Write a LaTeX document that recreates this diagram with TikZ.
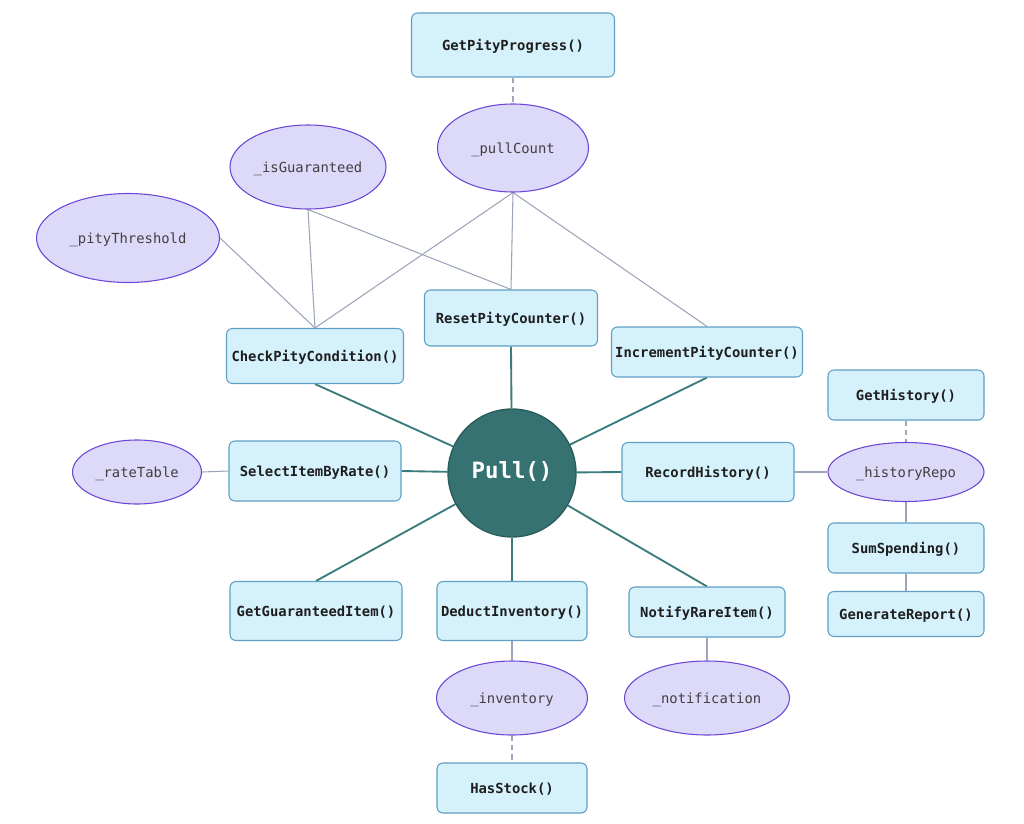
\documentclass[tikz,border=0pt]{standalone}
\usepackage{fontspec}
\setmonofont{DejaVu Sans Mono}
\usetikzlibrary{shapes.geometric,backgrounds}
\definecolor{boxfill}{HTML}{D5F2FC}
\definecolor{boxdraw}{HTML}{5E9FC2}
\definecolor{ellfill}{HTML}{DDDAF9}
\definecolor{elldraw}{HTML}{6E45D6}
\definecolor{pullfill}{HTML}{367272}
\definecolor{pulldraw}{HTML}{2A5C5C}
\definecolor{teal}{HTML}{3A7B7B}
\definecolor{greyline}{HTML}{9CA5B9}
\definecolor{txt}{HTML}{1E1E1E}
\tikzset{
  fnbox/.style={draw=boxdraw, fill=boxfill, line width=0.8pt, rounded corners=4.5pt, inner sep=0pt,
    text height=0.8em, text depth=0pt,
    font=\ttfamily\bfseries\fontsize{10.4}{12}\selectfont, text=txt},
  field/.style={ellipse, draw=elldraw, fill=ellfill, line width=0.8pt, inner sep=0pt,
    text height=0.8em, text depth=0pt,
    font=\ttfamily\fontsize{10.4}{12}\selectfont, text=txt!85},
  core/.style={circle, draw=pulldraw, fill=pullfill, line width=1pt, inner sep=0pt,
    text height=0.8em, text depth=0pt,
    font=\ttfamily\bfseries\fontsize{16.8}{20}\selectfont, text=white},
  callline/.style={draw=teal, line width=1.4pt},
  uselink/.style={draw=greyline, line width=0.8pt},
  readlink/.style={draw=greyline, line width=0.8pt, dash pattern=on 4pt off 3pt},
}
\begin{document}
\begin{tikzpicture}[x=0.75pt,y=-0.75pt]
\useasboundingbox (0,0) rectangle (1024,824);
% nodes
\node[fnbox, minimum width=152.25pt, minimum height=48pt] (gpp) at (513,45) {GetPityProgress()};
\node[field, minimum width=113.25pt, minimum height=66pt] (pc) at (513,148) {\_pullCount};
\node[field, minimum width=117pt, minimum height=63pt] (ig) at (308,167) {\_isGuaranteed};
\node[field, minimum width=137.25pt, minimum height=66.75pt] (pt) at (128,238) {\_pityThreshold};
\node[fnbox, minimum width=129.75pt, minimum height=42pt] (rpc) at (511,318) {ResetPityCounter()};
\node[fnbox, minimum width=132.75pt, minimum height=41.25pt] (cpc) at (315,356) {CheckPityCondition()};
\node[fnbox, minimum width=143.25pt, minimum height=37.5pt] (ipc) at (707,352) {IncrementPityCounter()};
\node[fnbox, minimum width=117pt, minimum height=37.5pt] (gh) at (906,395) {GetHistory()};
\node[field, minimum width=117pt, minimum height=44.25pt] (hr) at (906,472) {\_historyRepo};
\node[fnbox, minimum width=117pt, minimum height=37.5pt] (ss) at (906,548) {SumSpending()};
\node[fnbox, minimum width=117pt, minimum height=33.75pt] (gr) at (906,614) {GenerateReport()};
\node[core, minimum size=96pt] (pull) at (512,473) {Pull()};
\node[fnbox, minimum width=129pt, minimum height=45pt] (sir) at (315,471) {SelectItemByRate()};
\node[field, minimum width=96.75pt, minimum height=48pt] (rt) at (137,472) {\_rateTable};
\node[fnbox, minimum width=129pt, minimum height=44.25pt] (rh) at (708,472) {RecordHistory()};
\node[fnbox, minimum width=129pt, minimum height=44.25pt] (ggi) at (316,611) {GetGuaranteedItem()};
\node[fnbox, minimum width=112.5pt, minimum height=44.25pt] (di) at (512,611) {DeductInventory()};
\node[fnbox, minimum width=117pt, minimum height=37.5pt] (nri) at (707,612) {NotifyRareItem()};
\node[field, minimum width=113.25pt, minimum height=55.5pt] (inv) at (512,698) {\_inventory};
\node[field, minimum width=123.75pt, minimum height=55.5pt] (nt) at (707,698) {\_notification};
\node[fnbox, minimum width=112.5pt, minimum height=37.5pt] (hs) at (512,788) {HasStock()};
% connectors behind nodes
\begin{scope}[on background layer]
  % calls from Pull()
  \draw[callline] (pull) -- (cpc.south);
  \draw[callline] (pull) -- (rpc.south);
  \draw[callline] (pull) -- (ipc.south);
  \draw[callline] (pull) -- (sir.east);
  \draw[callline] (pull) -- (rh.west);
  \draw[callline] (pull) -- (ggi.north);
  \draw[callline] (pull) -- (di.north);
  \draw[callline] (pull) -- (nri.north);
  % field usage
  \draw[uselink] (pc.south) -- (cpc.north);
  \draw[uselink] (pc.south) -- (rpc.north);
  \draw[uselink] (pc.south) -- (ipc.north);
  \draw[uselink] (ig.south) -- (cpc.north);
  \draw[uselink] (ig.south) -- (rpc.north);
  \draw[uselink] (pt.east) -- (cpc.north);
  \draw[uselink] (rt.east) -- (sir.west);
  \draw[uselink] (rh.east) -- (hr.west);
  \draw[uselink] (hr.south) -- (ss.north);
  \draw[uselink] (ss.south) -- (gr.north);
  \draw[uselink] (di.south) -- (inv.north);
  \draw[uselink] (nri.south) -- (nt.north);
  % read-only access
  \draw[readlink] (gpp.south) -- (pc.north);
  \draw[readlink] (gh.south) -- (hr.north);
  \draw[readlink] (inv.south) -- (hs.north);
\end{scope}
\end{tikzpicture}
\end{document}
